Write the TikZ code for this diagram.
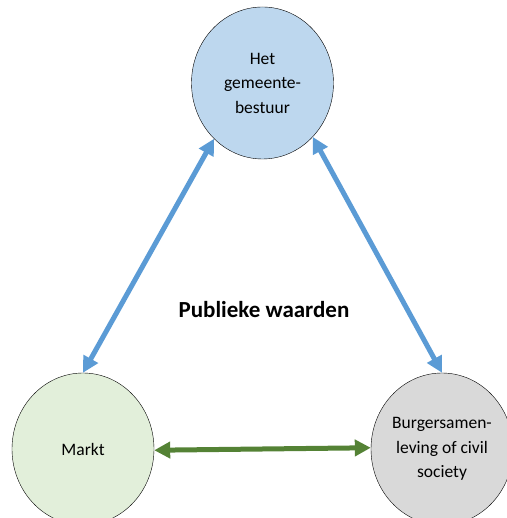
\documentclass[tikz,border=0pt]{standalone}
\usepackage{fontspec}
\setmainfont{Carlito}
\usepackage{tikz}
\usetikzlibrary{shapes.geometric, arrows.meta}
\definecolor{bestuurblue}{HTML}{BDD7EE}
\definecolor{marktgreen}{HTML}{E2EFDA}
\definecolor{burgergrey}{HTML}{D9D9D9}
\definecolor{arrowblue}{HTML}{5B9BD5}
\definecolor{arrowgreen}{HTML}{548235}
\tikzstyle{circ} = [ellipse, minimum width=142pt, minimum height=152pt, inner sep=0pt, draw=black, thin, align=center, font=\fontsize{17.5}{24.5}\selectfont]
\tikzstyle{arrow_blue} = [line width=5pt, {Triangle[length=16pt,width=16pt]}-{Triangle[length=16pt,width=16pt]}, color=arrowblue]
\tikzstyle{arrow_green} = [line width=5pt, {Triangle[length=16pt,width=16pt]}-{Triangle[length=16pt,width=16pt]}, color=arrowgreen]

\begin{document}
\begin{tikzpicture}[x=1pt, y=1pt]
		\useasboundingbox (0,0) rectangle (506,518);
		\node (bestuur) [circ, fill=bestuurblue] at (262.5,435) {Het\\gemeente-\\bestuur};
		\node (markt) [circ, fill=marktgreen] at (83,69) {Markt};
		\node (burgers) [circ, fill=burgergrey] at (442,69) {Burgersamen-\\leving of civil\\society};
		\node (waarden) [font=\fontsize{23}{27}\selectfont\bfseries] at (264,208) {Publieke waarden};
		\draw [arrow_blue] (markt.north) -- (bestuur.229);
		\draw [arrow_blue] (bestuur.313) -- (burgers.north);
		\draw [arrow_green] (markt.-1) -- (burgers.179);
\end{tikzpicture}
\end{document}
